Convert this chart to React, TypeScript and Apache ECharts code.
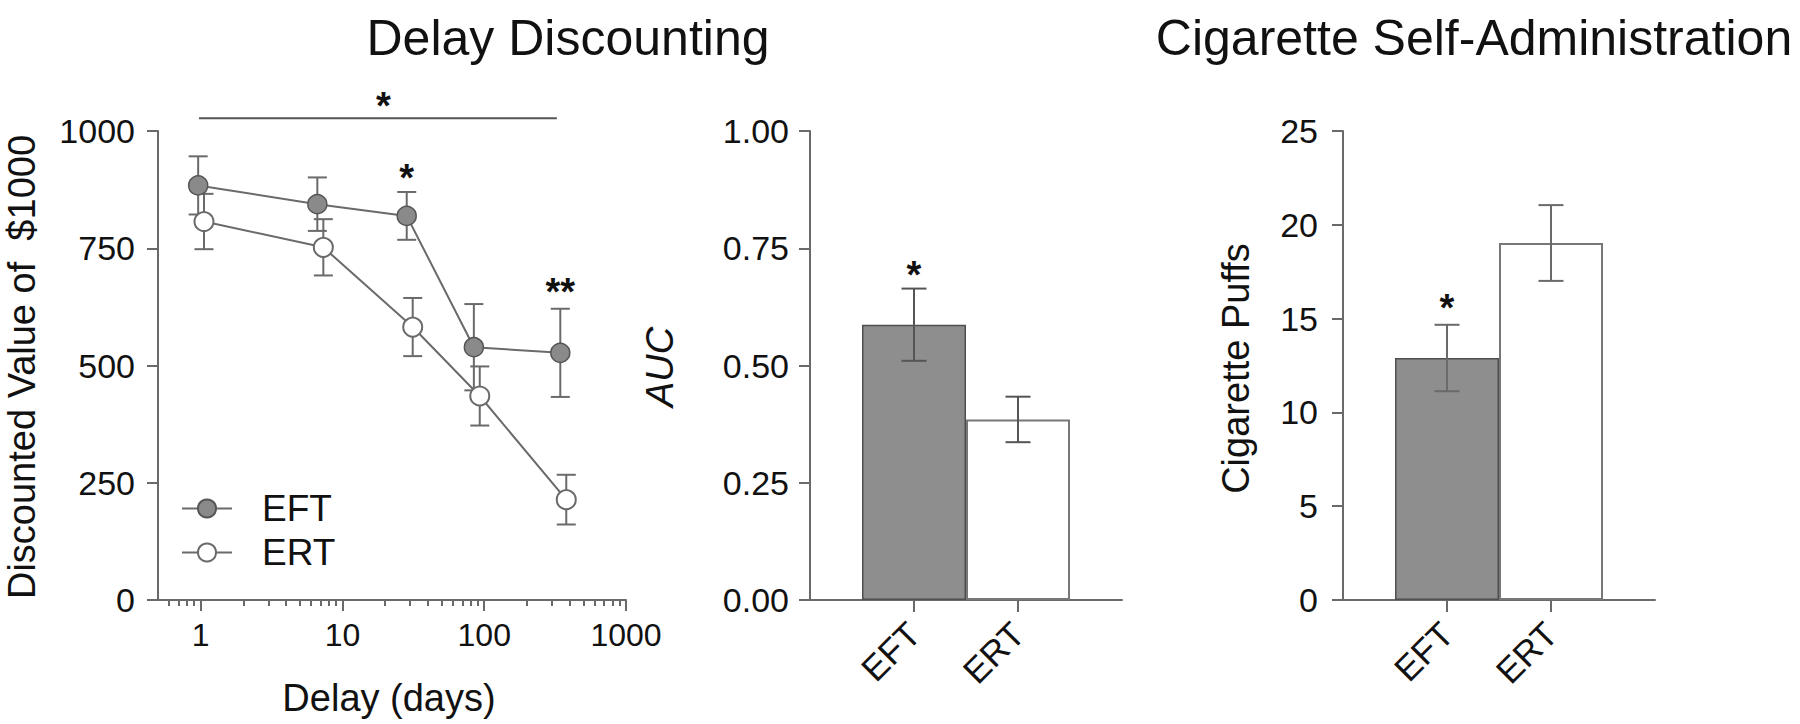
import React, { useEffect, useRef } from 'react';
import * as echarts from 'echarts';

const FONT = "'Liberation Sans', Arial, Helvetica, sans-serif";

// ---- Panel 1: Delay discounting (log x axis) ----
const DELAY_TICKS = [1, 10, 100, 1000];
const DELAY_MINOR_TICKS = [0.6, 0.7, 0.8, 0.9, 2, 3, 4, 5, 6, 7, 8, 9, 20, 30, 40, 50, 60, 70, 80, 90, 200, 300, 400, 500, 600, 700, 800, 900];
const EFT_DELAY = [0.96, 6.65, 28.4, 84.5, 344];
const EFT_VALUE = [884, 844, 819, 539, 527];
const EFT_SEM = [62, 57, 51, 92, 94];
const ERT_DELAY = [1.055, 7.33, 31.3, 93, 379];
const ERT_VALUE = [807, 752, 582, 435, 214];
const ERT_SEM = [59, 60, 62, 63, 53];

// ---- Panel 2: AUC ----
const GROUPS = ['EFT', 'ERT'];
const AUC_MEAN = [0.587, 0.385];
const AUC_SEM = [0.077, 0.0485];

// ---- Panel 3: Cigarette puffs ----
const PUFFS_MEAN = [12.9, 19.03];
const PUFFS_SEM = [1.77, 2.02];

// ---- Significance annotations (data coordinates) ----
const STAR_MARKS = [
  { panel: 0, x: 19.45, y: 1071, label: '*' },
  { panel: 0, x: 28.4, y: 918, label: '*' },
  { panel: 0, x: 344, y: 675, label: '**' },
  { panel: 1, x: 1, y: 0.711, label: '*' },
  { panel: 2, x: 1, y: 16.0, label: '*' },
];
const SIG_LINE = { from: 0.973, to: 325, y: 1027 };

const AXIS = '#6a6a6a';
const TEXT = '#111';

export default function App() {
  const ref = useRef<HTMLDivElement>(null);

  useEffect(() => {
    const chart = echarts.init(ref.current as HTMLDivElement, null, { renderer: 'svg' });

    const axisLine = { show: true, lineStyle: { color: AXIS, width: 2 } };
    const tickStyle = { color: AXIS, width: 2 };
    const yTick = { show: true, length: 11, lineStyle: tickStyle };
    const lbl = { color: TEXT, fontFamily: FONT, fontSize: 34 };
    const CATS = ['', ...GROUPS, ''];
    const showCat = (i: number) => i >= 1 && i <= GROUPS.length;

    const errRender = (capHalf: number, color: string) => (params: any, api: any) => {
      const x = api.value(0);
      const y = api.value(1);
      const e = api.value(2);
      const top = api.coord([x, y + e]);
      const bot = api.coord([x, y - e]);
      const st = { stroke: color, lineWidth: 2 };
      return {
        type: 'group',
        children: [
          { type: 'line', shape: { x1: top[0], y1: top[1], x2: bot[0], y2: bot[1] }, style: st },
          { type: 'line', shape: { x1: top[0] - capHalf, y1: top[1], x2: top[0] + capHalf, y2: top[1] }, style: st },
          { type: 'line', shape: { x1: bot[0] - capHalf, y1: bot[1], x2: bot[0] + capHalf, y2: bot[1] }, style: st },
        ],
      };
    };

    const catAxis = (gridIndex: number) => ({
      gridIndex,
      type: 'category',
      data: CATS,
      boundaryGap: false,
      axisLine,
      axisTick: { show: true, length: 12, interval: (i: number) => showCat(i), lineStyle: tickStyle },
      axisLabel: { ...lbl, fontSize: 35, rotate: 45, margin: 28, interval: (i: number) => showCat(i) },
      splitLine: { show: false },
    });

    const barData = (means: number[]) => [
      '-',
      { value: means[0], itemStyle: { color: '#8e8e8e', borderColor: '#4f4f4f', borderWidth: 1.5 } },
      { value: means[1], itemStyle: { color: '#ffffff', borderColor: '#777777', borderWidth: 2 } },
      '-',
    ];

    const option: any = {
      animation: false,
      backgroundColor: '#ffffff',
      textStyle: { fontFamily: FONT },
      grid: [
        { left: 158, top: 131, width: 468, height: 469 },
        { left: 810, top: 131, width: 312, height: 469 },
        { left: 1343, top: 131, width: 312, height: 469 },
      ],
      legend: {
        data: ['EFT', 'ERT'],
        orient: 'vertical',
        left: 181,
        top: 490,
        padding: 0,
        itemWidth: 50,
        itemHeight: 22.5,
        itemGap: 7,
        textStyle: { color: TEXT, fontFamily: FONT, fontSize: 37, lineHeight: 36, padding: [0, 0, 0, 25] },
      },
      xAxis: [
        {
          gridIndex: 0,
          type: 'log',
          logBase: 10,
          min: 0.5,
          max: 1000,
          axisLine,
          axisTick: { show: true, length: 11, customValues: DELAY_TICKS, lineStyle: tickStyle },
          axisLabel: { ...lbl, fontSize: 32, margin: 19, customValues: DELAY_TICKS, formatter: (v: number) => String(Math.round(v)) },
          splitLine: { show: false },
          minorTick: { show: false },
        },
        {
          gridIndex: 0,
          type: 'log',
          logBase: 10,
          min: 0.5,
          max: 1000,
          position: 'bottom',
          axisLine: { show: false },
          axisTick: { show: true, length: 6, customValues: DELAY_MINOR_TICKS, lineStyle: tickStyle },
          axisLabel: { show: false },
          splitLine: { show: false },
        },
        catAxis(1),
        catAxis(2),
      ],
      yAxis: [
        {
          gridIndex: 0, type: 'value', min: 0, max: 1000, interval: 250,
          axisLine, axisTick: yTick, axisLabel: { ...lbl, margin: 23, formatter: (v: number) => String(v) }, splitLine: { show: false },
        },
        {
          gridIndex: 1, type: 'value', min: 0, max: 1, interval: 0.25,
          axisLine, axisTick: yTick, axisLabel: { ...lbl, margin: 21, formatter: (v: number) => v.toFixed(2) }, splitLine: { show: false },
        },
        {
          gridIndex: 2, type: 'value', min: 0, max: 25, interval: 5,
          axisLine, axisTick: yTick, axisLabel: { ...lbl, margin: 25 }, splitLine: { show: false },
        },
      ],
      series: [
        {
          type: 'custom', name: 'EFT err', xAxisIndex: 0, yAxisIndex: 0, z: 1, silent: true,
          encode: { x: 0, y: 1 },
          data: EFT_DELAY.map((d, i) => [d, EFT_VALUE[i], EFT_SEM[i]]),
          renderItem: errRender(9.5, '#6a6a6a'),
        },
        {
          type: 'custom', name: 'ERT err', xAxisIndex: 0, yAxisIndex: 0, z: 1, silent: true,
          encode: { x: 0, y: 1 },
          data: ERT_DELAY.map((d, i) => [d, ERT_VALUE[i], ERT_SEM[i]]),
          renderItem: errRender(9.5, '#6a6a6a'),
        },
        {
          type: 'line', name: 'ERT', xAxisIndex: 0, yAxisIndex: 0, z: 3,
          data: ERT_DELAY.map((d, i) => [d, ERT_VALUE[i]]),
          symbol: 'circle', symbolSize: 19, showAllSymbol: true,
          itemStyle: { color: '#ffffff', borderColor: '#6a6a6a', borderWidth: 2 },
          lineStyle: { color: '#6a6a6a', width: 2 },
        },
        {
          type: 'line', name: 'EFT', xAxisIndex: 0, yAxisIndex: 0, z: 4,
          data: EFT_DELAY.map((d, i) => [d, EFT_VALUE[i]]),
          symbol: 'circle', symbolSize: 19, showAllSymbol: true,
          itemStyle: { color: '#8a8a8a', borderColor: '#555555', borderWidth: 1.5 },
          lineStyle: { color: '#6a6a6a', width: 2 },
        },
        {
          type: 'bar', name: 'AUC', xAxisIndex: 2, yAxisIndex: 1, z: 2, barWidth: 104,
          data: barData(AUC_MEAN),
        },
        {
          type: 'custom', name: 'AUC err', xAxisIndex: 2, yAxisIndex: 1, z: 3, silent: true,
          encode: { x: 0, y: 1 },
          data: AUC_MEAN.map((m, i) => [i + 1, m, AUC_SEM[i]]),
          renderItem: errRender(12.5, '#555555'),
        },
        {
          type: 'bar', name: 'Puffs', xAxisIndex: 3, yAxisIndex: 2, z: 2, barWidth: 104,
          data: barData(PUFFS_MEAN),
        },
        {
          type: 'custom', name: 'Puffs err', xAxisIndex: 3, yAxisIndex: 2, z: 3, silent: true,
          encode: { x: 0, y: 1 },
          data: PUFFS_MEAN.map((m, i) => [i + 1, m, PUFFS_SEM[i]]),
          renderItem: errRender(12.5, '#6a6a6a'),
        },
      ],
    };

    chart.setOption(option);

    const finders = [
      { xAxisIndex: 0, yAxisIndex: 0 },
      { xAxisIndex: 2, yAxisIndex: 1 },
      { xAxisIndex: 3, yAxisIndex: 2 },
    ];
    const px = (panel: number, x: number, y: number) =>
      chart.convertToPixel(finders[panel] as any, [x, y]) as unknown as number[];

    const txt = (text: string, x: number, y: number, size: number, extra: any = {}) => ({
      type: 'text',
      x,
      y,
      rotation: extra.rotation || 0,
      style: {
        text,
        fontSize: size,
        fontFamily: FONT,
        fontStyle: extra.fontStyle || 'normal',
        fontWeight: extra.fontWeight || 'normal',
        fill: TEXT,
        align: 'center',
        verticalAlign: 'middle',
      },
    });

    const STAR_SIZE = 38;
    const graphics: any[] = [
      txt('Delay Discounting', 568, 37.5, 50),
      txt('Cigarette Self-Administration', 1474, 37.5, 50),
      txt('Discounted Value of  $1000', 21.7, 367, 38, { rotation: Math.PI / 2 }),
      txt('AUC', 660, 367, 38, { rotation: Math.PI / 2, fontStyle: 'italic' }),
      txt('Cigarette Puffs', 1236, 368.5, 38, { rotation: Math.PI / 2 }),
      txt('Delay (days)', 389, 698.3, 38),
    ];
    const a = px(0, SIG_LINE.from, SIG_LINE.y);
    const b = px(0, SIG_LINE.to, SIG_LINE.y);
    graphics.push({
      type: 'line',
      shape: { x1: a[0], y1: a[1], x2: b[0], y2: b[1] },
      style: { stroke: '#555555', lineWidth: 2 },
    });
    STAR_MARKS.forEach((s) => {
      const p = px(s.panel, s.x, s.y);
      graphics.push(txt(s.label, p[0], p[1] + 0.225 * STAR_SIZE, STAR_SIZE, { fontWeight: 'bold' }));
    });
    chart.setOption({ graphic: graphics });

    return () => {
      chart.dispose();
    };
  }, []);

  return (
    <div
      ref={ref}
      style={{ position: 'fixed', left: 0, top: 0, width: 1800, height: 724, background: '#ffffff' }}
    />
  );
}
